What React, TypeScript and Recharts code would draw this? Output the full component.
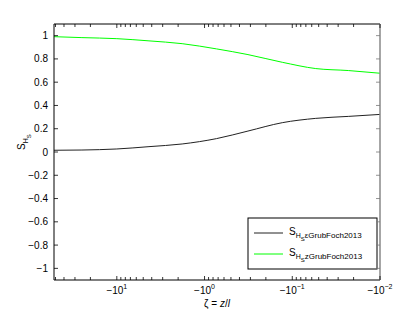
import { Line, LineChart, XAxis, YAxis } from 'recharts';

// |zeta| values (plotted as -zeta on a reversed log axis)
const zetaMag = [52, 25, 10, 4.3, 1.8, 0.73, 0.32, 0.13, 0.054, 0.023, 0.01];
const shsEps = [0.015, 0.017, 0.026, 0.046, 0.069, 0.115, 0.18, 0.252, 0.289, 0.306, 0.323];
const shsZ = [0.991, 0.983, 0.974, 0.955, 0.931, 0.886, 0.837, 0.771, 0.717, 0.7, 0.677];

const majorTicks = [10, 1, 0.1, 0.01];
const majorExp = ['1', '0', '\u22121', '\u22122'];
const minorTicks = [20, 30, 40, 50, 2, 3, 4, 5, 6, 7, 8, 9, 0.2, 0.3, 0.4, 0.5, 0.6, 0.7, 0.8, 0.9, 0.02, 0.03, 0.04, 0.05, 0.06, 0.07, 0.08, 0.09];
const yTicks = [-1, -0.8, -0.6, -0.4, -0.2, 0, 0.2, 0.4, 0.6, 0.8, 1];

const data = zetaMag.map((m, i) => ({ m, eps: shsEps[i], z: shsZ[i] }));
const xTicks = [...majorTicks, ...minorTicks];

const FONT = '"Liberation Sans", Arial, sans-serif';

const fmtY = (v: number) => (v < 0 ? '\u2212' + Math.abs(v) : String(v));

function BottomTick(props: any) {
  const { x, y, payload } = props;
  const idx = majorTicks.indexOf(payload.value);
  return (
    <g>
      <line x1={x} x2={x} y1={y} y2={y - (idx >= 0 ? 4 : 3)} stroke="#000" strokeWidth={0.8} />
      {idx >= 0 && (
        <text x={x} y={y + 14} textAnchor="middle" fontSize={10} fontFamily={FONT} fill="#000">
          <tspan>{'\u221210'}</tspan>
          <tspan dy={-5} fontSize={7}>{majorExp[idx]}</tspan>
        </text>
      )}
    </g>
  );
}

function TopTick(props: any) {
  const { x, y, payload } = props;
  const major = majorTicks.indexOf(payload.value) >= 0;
  return <line x1={x} x2={x} y1={y} y2={y + (major ? 4 : 3)} stroke="#000" strokeWidth={0.8} />;
}

function LeftTick(props: any) {
  const { x, y, payload } = props;
  return (
    <g>
      <line x1={x} x2={x + 4} y1={y} y2={y} stroke="#000" strokeWidth={0.8} />
      <text x={x - 6} y={y + 3.5} textAnchor="end" fontSize={10} fontFamily={FONT} fill="#000">
        {fmtY(payload.value)}
      </text>
    </g>
  );
}

function RightTick(props: any) {
  const { x, y } = props;
  return <line x1={x} x2={x - 4} y1={y} y2={y} stroke="#777" strokeWidth={0.8} />;
}

function LegendBox() {
  return (
    <g fontFamily={FONT}>
      <rect x={248} y={218} width={129} height={51} fill="#fff" stroke="#000" strokeWidth={1} />
      <line x1={254} x2={283} y1={233} y2={233} stroke="#222" strokeWidth={1} />
      <text x={289} y={235} fontSize={10} fill="#000">
        <tspan>S</tspan>
        <tspan dy={3} fontSize={7}>H</tspan>
        <tspan dy={3} fontSize={6}>S</tspan>
        <tspan dy={-3} fontSize={8}>εGrubFoch2013</tspan>
      </text>
      <line x1={254} x2={283} y1={254} y2={254} stroke="#00ff00" strokeWidth={1} />
      <text x={289} y={256} fontSize={10} fill="#000">
        <tspan>S</tspan>
        <tspan dy={3} fontSize={7}>H</tspan>
        <tspan dy={3} fontSize={6}>S</tspan>
        <tspan dy={-3} fontSize={8}>zGrubFoch2013</tspan>
      </text>
    </g>
  );
}

function Labels() {
  return (
    <g fontFamily={FONT} fill="#000">
      <text x={217} y={307} textAnchor="middle" fontSize={10}>
        <tspan>ζ = </tspan>
        <tspan fontStyle="italic">z</tspan>
        <tspan>/</tspan>
        <tspan fontStyle="italic">l</tspan>
      </text>
      <text transform="translate(25,150) rotate(-90)" fontSize={10}>
        <tspan>S</tspan>
        <tspan dy={3} fontSize={7}>H</tspan>
        <tspan dy={3} fontSize={6}>S</tspan>
      </text>
    </g>
  );
}

export default function App() {
  return (
    <div style={{ position: 'absolute', left: 0, top: 0, background: '#fff' }}>
      <LineChart width={420} height={315} data={data} margin={{ top: 4, right: 30, bottom: 5, left: 4 }}>
        <XAxis
          xAxisId="b"
          dataKey="m"
          type="number"
          scale="log"
          domain={[0.01, 52]}
          reversed
          allowDataOverflow
          ticks={xTicks}
          interval={0}
          height={30}
          tickSize={0}
          tickMargin={0}
          tickLine={false}
          tick={<BottomTick />}
          stroke="#000"
        />
        <XAxis
          xAxisId="t"
          dataKey="m"
          type="number"
          scale="log"
          orientation="top"
          domain={[0.01, 52]}
          reversed
          allowDataOverflow
          ticks={xTicks}
          interval={0}
          height={20}
          tickSize={0}
          tickMargin={0}
          tickLine={false}
          tick={<TopTick />}
          stroke="#000"
        />
        <YAxis
          yAxisId="l"
          type="number"
          domain={[-1.1, 1.1]}
          allowDataOverflow
          ticks={yTicks}
          interval={0}
          width={50}
          tickSize={0}
          tickMargin={0}
          tickLine={false}
          tick={<LeftTick />}
          stroke="#000"
        />
        <YAxis
          yAxisId="r"
          orientation="right"
          type="number"
          domain={[-1.1, 1.1]}
          allowDataOverflow
          ticks={yTicks}
          interval={0}
          width={10}
          tickSize={0}
          tickMargin={0}
          tickLine={false}
          tick={<RightTick />}
          stroke="#888"
          strokeWidth={1.5}
        />
        <Line xAxisId="b" yAxisId="l" dataKey="eps" type="monotone" stroke="#222" strokeWidth={1} dot={false} isAnimationActive={false} />
        <Line xAxisId="b" yAxisId="l" dataKey="z" type="monotone" stroke="#00ff00" strokeWidth={1} dot={false} isAnimationActive={false} />
        <Line xAxisId="t" yAxisId="r" dataKey="z" stroke="none" dot={false} legendType="none" isAnimationActive={false} />
        <LegendBox />
        <Labels />
      </LineChart>
    </div>
  );
}
